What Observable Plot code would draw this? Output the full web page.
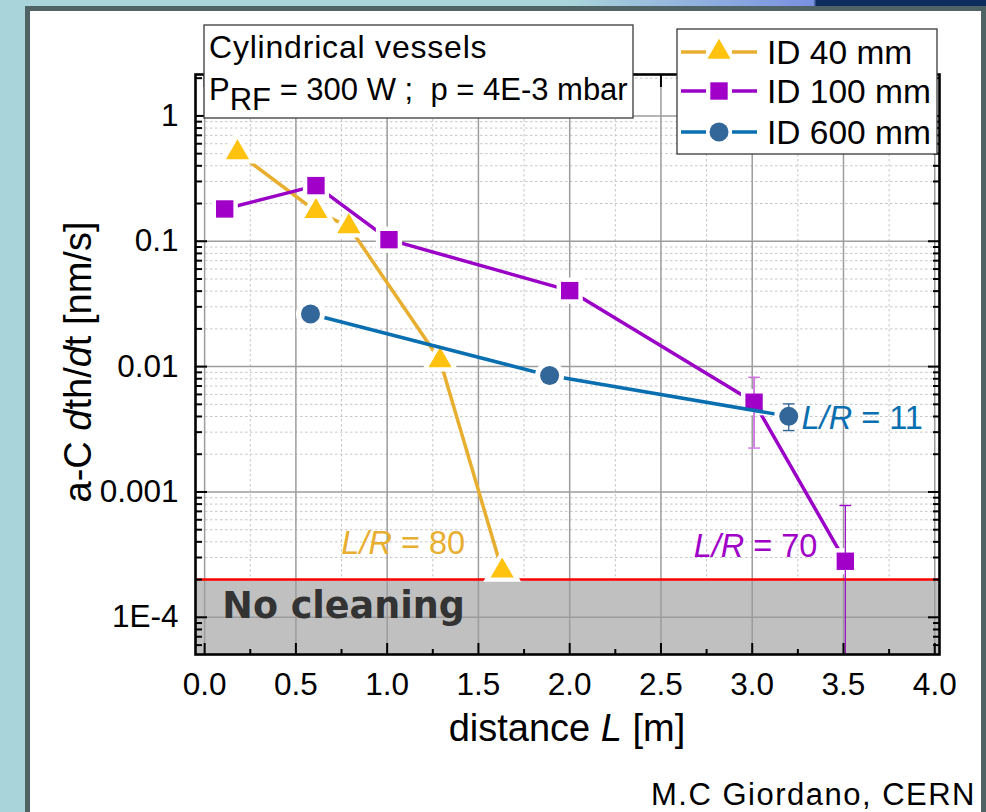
<!DOCTYPE html>
<html><head><meta charset="utf-8">
<script src="https://cdn.jsdelivr.net/npm/d3@7"></script>
<script src="https://cdn.jsdelivr.net/npm/@observablehq/plot@0.6"></script>
<style>
html,body{margin:0;padding:0;}
body{width:986px;height:812px;overflow:hidden;background:#a9d4da;position:relative;font-family:"Liberation Sans",Arial,sans-serif;}
#strip{position:absolute;left:0;top:0;width:986px;height:6px;background:linear-gradient(to right,#a9d4da 0%,#a9d4da 58%,#7a90e2 82.5%,#0b2c5c 82.8%,#0b2c5c 100%);}
#panel{position:absolute;left:25px;top:6px;width:951px;height:900px;border:5px solid #4f6364;background:#fff;}
#chart{position:absolute;left:0;top:0;}
#over{position:absolute;left:0;top:0;pointer-events:none;}
</style></head>
<body>
<div id="strip"></div>
<div id="panel"></div>
<div id="chart"></div>
<script>
// ---------- data ----------
const seriesNames = ["ID 40 mm", "ID 100 mm", "ID 600 mm"];
const x40  = [0.18, 0.61, 0.79, 1.29, 1.63];
const y40  = [0.51, 0.173, 0.131, 0.0112, 0.000235];
const x100 = [0.11, 0.61, 1.01, 2.0, 3.01, 3.51];
const y100 = [0.181, 0.278, 0.103, 0.0404, 0.0052, 0.00028];
const x600 = [0.58, 1.89, 3.2];
const y600 = [0.0263, 0.00848, 0.00401];
// error bars
const errX100  = [3.01, 3.51];
const errLo100 = [0.00224, 0.00003];
const errHi100 = [0.00822, 0.00078];
const errX600  = [3.2];
const errLo600 = [0.00309];
const errHi600 = [0.00504];
// threshold
const threshold = 2e-4;
const bandLabel = "No cleaning";
// L/R annotations
const lrValues = ["80", "70", "11"];
const lrX = [1.43, 3.36, 3.273];
const lrY = [0.000394, 0.000373, 0.00392];
// ticks
const xTicks = [0, 0.5, 1, 1.5, 2, 2.5, 3, 3.5, 4];
const xTickLabels = ["0.0", "0.5", "1.0", "1.5", "2.0", "2.5", "3.0", "3.5", "4.0"];
const xMinor = [0.25, 0.75, 1.25, 1.75, 2.25, 2.75, 3.25, 3.75];
const yTicks = [1, 0.1, 0.01, 0.001, 0.0001];
const yTickLabels = ["1", "0.1", "0.01", "0.001", "1E-4"];
const xDomain = [-0.05, 4.026];
const yDomain = [5.05e-5, 2.14];
const yMinor = [];
for (const dec of [1e-5, 1e-4, 1e-3, 1e-2, 1e-1, 1]) for (let m = 2; m <= 9; m++) {
  const v = m * dec; if (v >= yDomain[0] && v <= yDomain[1]) yMinor.push(v);
}

// ---------- styles ----------
const col40L = "#e8ae30", col40M = "#ffc20e";
const col100L = "#9a00c6", col100M = "#a000c8";
const col600L = "#0a6fb0", col600M = "#336699";
const r40 = 8.6, r100 = 9.8, r600 = 9.5;

const rows = (xs, ys) => xs.map((x, i) => ({x, y: ys[i]}));
const d40 = rows(x40, y40), d100 = rows(x100, y100), d600 = rows(x600, y600);
const e100 = errX100.map((x, i) => ({x, lo: errLo100[i], hi: errHi100[i]}));
const e600 = errX600.map((x, i) => ({x, lo: errLo600[i], hi: errHi600[i]}));
const caps = e => e.flatMap(d => [{x: d.x, y: d.lo}, {x: d.x, y: d.hi}]);
const capSymbol = {draw(ctx, size) { const w = Math.sqrt(size) / 2; ctx.moveTo(-w, 0); ctx.lineTo(w, 0); }};

const W = 986, H = 812;
const xLabelOf = d => xTickLabels[xTicks.indexOf(d)];
const yLabelOf = d => yTickLabels[yTicks.indexOf(d)];
const noLab = () => "";

const plot = Plot.plot({
  width: W, height: H,
  marginLeft: 195, marginRight: 47, marginTop: 74, marginBottom: 158,
  style: {background: "transparent", fontFamily: "Liberation Sans, Arial, sans-serif", color: "black", overflow: "visible"},
  x: {domain: xDomain},
  y: {type: "log", domain: yDomain},
  marks: [
    Plot.gridX(xMinor, {stroke: "#c6c6c6", strokeOpacity: 1, strokeWidth: 1, strokeDasharray: "2.5,2.5"}),
    Plot.gridY(yMinor, {stroke: "#c6c6c6", strokeOpacity: 1, strokeWidth: 1, strokeDasharray: "2.5,2.5"}),
    Plot.rect([threshold], {y1: yDomain[0], y2: d => d, fill: "#c0c0c0"}),
    Plot.gridX(xTicks, {stroke: "#9c9c9c", strokeOpacity: 1, strokeWidth: 1.5}),
    Plot.gridY(yTicks, {stroke: "#9c9c9c", strokeOpacity: 1, strokeWidth: 1.5}),
    Plot.ruleY([threshold], {stroke: "#ff0000", strokeWidth: 2.6}),
    Plot.text([{x: 0.097, y: 1.22e-4, t: bandLabel}], {x: "x", y: "y", text: "t", textAnchor: "start", lineAnchor: "middle",
      fontFamily: "DejaVu Sans", fontWeight: "bold", fontSize: 36.5, fill: "#333333"}),
    // ID 40
    Plot.line(d40, {x: "x", y: "y", stroke: col40L, strokeWidth: 3.5}),
    Plot.dot(d40, {x: "x", y: "y", symbol: "triangle", r: r40 + 5.5, fill: "white", stroke: "none"}),
    Plot.dot(d40, {x: "x", y: "y", symbol: "triangle", r: r40, fill: col40M, stroke: "none"}),
    // ID 100
    Plot.line(d100, {x: "x", y: "y", stroke: col100L, strokeWidth: 3.5}),
    Plot.dot(d100, {x: "x", y: "y", symbol: "square", r: r100 + 5, fill: "white", stroke: "none"}),
    Plot.ruleX(e100, {x: "x", y1: "lo", y2: "hi", stroke: (d, i) => i === 0 ? "#cf72e0" : col100L, strokeWidth: (d, i) => i === 0 ? 1.8 : 1.2, clip: true}),
    Plot.dot(caps(e100), {x: "x", y: "y", symbol: capSymbol, r: 6.6, fill: "none", stroke: (d, i) => i < 2 ? "#cf72e0" : col100L, strokeWidth: 1.4, clip: true}),
    Plot.dot(d100, {x: "x", y: "y", symbol: "square", r: r100, fill: col100M, stroke: "none"}),
    // ID 600
    Plot.line(d600, {x: "x", y: "y", stroke: col600L, strokeWidth: 3.5}),
    Plot.dot(d600, {x: "x", y: "y", symbol: "circle", r: r600 + 5, fill: "white", stroke: "none"}),
    Plot.ruleX(e600, {x: "x", y1: "lo", y2: "hi", stroke: col600M, strokeWidth: 1.3}),
    Plot.dot(caps(e600), {x: "x", y: "y", symbol: capSymbol, r: 6.6, fill: "none", stroke: col600M, strokeWidth: 1.4}),
    Plot.dot(d600, {x: "x", y: "y", symbol: "circle", r: r600, fill: col600M, stroke: "none"}),
    // inward ticks
    Plot.axisY(yTicks, {anchor: "left", tickSize: -12, tickFormat: noLab, strokeWidth: 2, label: null}),
    Plot.axisY(yMinor, {anchor: "left", tickSize: -7, tickFormat: noLab, strokeWidth: 2, label: null}),
    Plot.axisY(yTicks, {anchor: "right", tickSize: -12, tickFormat: noLab, strokeWidth: 2, label: null}),
    Plot.axisY(yMinor, {anchor: "right", tickSize: -7, tickFormat: noLab, strokeWidth: 2, label: null}),
    Plot.axisX(xTicks, {anchor: "bottom", tickSize: -11, tickFormat: noLab, strokeWidth: 2, label: null}),
    Plot.axisX(xMinor, {anchor: "bottom", tickSize: -5, tickFormat: noLab, strokeWidth: 2, label: null}),
    Plot.axisX(xTicks, {anchor: "top", tickSize: -12, tickFormat: noLab, strokeWidth: 2, label: null}),
    Plot.axisX(xMinor, {anchor: "top", tickSize: -6, tickFormat: noLab, strokeWidth: 2, label: null}),
    // tick labels
    Plot.axisY(yTicks, {anchor: "left", tickSize: 0, tickPadding: 17, tickFormat: yLabelOf, fontSize: 31.5, label: null}),
    Plot.axisX(xTicks, {anchor: "bottom", tickSize: 0, tickPadding: 18, tickFormat: xLabelOf, fontSize: 31.5, label: null}),
    Plot.frame({stroke: "black", strokeWidth: 2.6})
  ]
});
document.getElementById("chart").appendChild(plot);

// ---------- overlay (titles, boxes, legend, annotations) ----------
const sx = plot.scale("x"), sy = plot.scale("y");
const svg = d3.select("body").append("svg").attr("id", "over").attr("width", W).attr("height", H)
  .style("font-family", "Liberation Sans, Arial, sans-serif");

// Text box
svg.append("rect").attr("x", 204).attr("y", 25).attr("width", 429).attr("height", 93)
  .attr("fill", "white").attr("stroke", "#3a3a3a").attr("stroke-width", 1.3);
svg.append("text").attr("x", 209).attr("y", 58).attr("font-size", 32).style("letter-spacing", "0.8px").text("Cylindrical vessels");
const t2 = svg.append("text").attr("x", 209).attr("y", 100).attr("font-size", 31).style("white-space", "pre");
t2.append("tspan").text("P");
t2.append("tspan").attr("dy", 10).text("RF");
t2.append("tspan").attr("dy", -10).text(" = 300 W ;  p = 4E-3 mbar");

// Legend
const legColors = [[col40L, col40M, d3.symbolTriangle, r40], [col100L, col100M, d3.symbolSquare, r100], [col600L, col600M, d3.symbolCircle, r600]];
svg.append("rect").attr("x", 677).attr("y", 29).attr("width", 260).attr("height", 125)
  .attr("fill", "white").attr("stroke", "#3a3a3a").attr("stroke-width", 1.3);
const legY = [52, 91, 132];
seriesNames.forEach((name, i) => {
  const [lc, mc, sym, r] = legColors[i];
  const g = svg.append("g").attr("transform", `translate(0,${legY[i]})`);
  g.append("line").attr("x1", 681).attr("x2", 706).attr("stroke", lc).attr("stroke-width", 3.5);
  g.append("line").attr("x1", 732).attr("x2", 757).attr("stroke", lc).attr("stroke-width", 3.5);
  g.append("path").attr("transform", "translate(719,0)").attr("d", d3.symbol(sym, Math.PI * r * r)()).attr("fill", mc);
  g.append("text").attr("x", 767).attr("y", 12).attr("font-size", 33.5).text(name);
});

// L/R annotations
const lrColors = [col40L, col100M, col600L];
const lrAnchors = ["end", "end", "start"];
lrValues.forEach((v, i) => {
  const t = svg.append("text").attr("x", sx.apply(lrX[i])).attr("y", sy.apply(lrY[i]) + 11.5)
    .attr("font-size", 32.5).attr("fill", lrColors[i]).attr("text-anchor", lrAnchors[i]).style("white-space", "pre");
  t.append("tspan").attr("font-style", "italic").text("L/R");
  t.append("tspan").text(" = " + v);
});

// Axis titles
const yt = svg.append("text").attr("transform", "translate(91,362) rotate(-90)").attr("text-anchor", "middle")
  .attr("font-size", 38).style("white-space", "pre");
yt.append("tspan").text("a-C ");
yt.append("tspan").attr("font-style", "italic").text("d");
yt.append("tspan").text("th/");
yt.append("tspan").attr("font-style", "italic").text("d");
yt.append("tspan").text("t [nm/s]");

const xt = svg.append("text").attr("x", 567).attr("y", 741).attr("text-anchor", "middle")
  .attr("font-size", 38).style("white-space", "pre");
xt.append("tspan").text("distance ");
xt.append("tspan").attr("font-style", "italic").text("L");
xt.append("tspan").text(" [m]");

// Caption
svg.append("text").attr("x", 976).attr("y", 805).attr("text-anchor", "end").attr("font-size", 31)
  .style("letter-spacing", "1.5px").text("M.C Giordano, CERN");
</script>
</body></html>
